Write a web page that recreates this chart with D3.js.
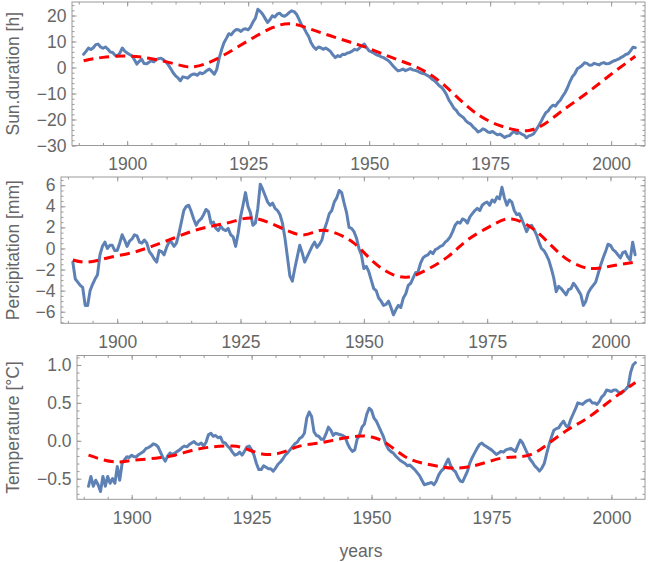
<!DOCTYPE html>
<html><head><meta charset="utf-8">
<script src="https://cdn.jsdelivr.net/npm/d3@7"></script>
<style>html,body{margin:0;padding:0;background:#fff}svg{display:block}</style>
</head><body>
<svg id="chart" width="650" height="562"></svg>
<script>
// ---------- data (half-year samples) ----------
const years = [
 1891,1891.5,1892,1892.5,1893,1893.5,1894,1894.5,1895,1895.5,1896,1896.5,1897,1897.5,1898,1898.5,1899,1899.5,1900,1900.5,
 1901,1901.5,1902,1902.5,1903,1903.5,1904,1904.5,1905,1905.5,1906,1906.5,1907,1907.5,1908,1908.5,1909,1909.5,1910,1910.5,
 1911,1911.5,1912,1912.5,1913,1913.5,1914,1914.5,1915,1915.5,1916,1916.5,1917,1917.5,1918,1918.5,1919,1919.5,1920,1920.5,
 1921,1921.5,1922,1922.5,1923,1923.5,1924,1924.5,1925,1925.5,1926,1926.5,1927,1927.5,1928,1928.5,1929,1929.5,1930,1930.5,
 1931,1931.5,1932,1932.5,1933,1933.5,1934,1934.5,1935,1935.5,1936,1936.5,1937,1937.5,1938,1938.5,1939,1939.5,1940,1940.5,
 1941,1941.5,1942,1942.5,1943,1943.5,1944,1944.5,1945,1945.5,1946,1946.5,1947,1947.5,1948,1948.5,1949,1949.5,1950,1950.5,
 1951,1951.5,1952,1952.5,1953,1953.5,1954,1954.5,1955,1955.5,1956,1956.5,1957,1957.5,1958,1958.5,1959,1959.5,1960,1960.5,
 1961,1961.5,1962,1962.5,1963,1963.5,1964,1964.5,1965,1965.5,1966,1966.5,1967,1967.5,1968,1968.5,1969,1969.5,1970,1970.5,
 1971,1971.5,1972,1972.5,1973,1973.5,1974,1974.5,1975,1975.5,1976,1976.5,1977,1977.5,1978,1978.5,1979,1979.5,1980,1980.5,
 1981,1981.5,1982,1982.5,1983,1983.5,1984,1984.5,1985,1985.5,1986,1986.5,1987,1987.5,1988,1988.5,1989,1989.5,1990,1990.5,
 1991,1991.5,1992,1992.5,1993,1993.5,1994,1994.5,1995,1995.5,1996,1996.5,1997,1997.5,1998,1998.5,1999,1999.5,2000,2000.5,
 2001,2001.5,2002,2002.5,2003,2003.5,2004,2004.5,2005];

const sunValues = [
 5.1,6.2,7.5,6.9,7.6,8.8,9.0,7.9,7.4,7.9,7.1,6.0,5.8,4.7,4.5,5.6,7.5,6.3,5.6,5.0,
 4.5,3.0,1.3,2.4,3.2,1.5,1.4,2.0,2.6,2.2,3.0,3.4,3.6,3.0,2.2,1.0,-0.5,-2.0,-3.2,-4.0,
 -5.1,-3.6,-3.8,-4.1,-3.2,-2.6,-2.5,-3.0,-2.0,-2.4,-1.9,-1.1,-0.6,-1.5,-2.6,-0.8,3.5,6.8,9.5,11.2,
 13.0,12.6,13.8,14.6,14.5,13.9,14.7,14.9,14.5,15.6,17.5,19.0,22.4,21.6,20.5,18.9,17.3,18.4,19.9,19.4,
 20.5,20.9,20.0,19.7,20.3,21.2,21.8,21.5,20.5,18.6,16.5,15.3,13.5,11.9,9.5,8.0,7.0,7.9,7.6,7.0,
 7.5,6.9,6.2,4.9,3.8,4.6,4.2,5.1,5.0,5.6,5.8,6.3,7.0,6.7,7.5,8.4,9.0,7.6,6.4,6.0,
 5.5,4.9,4.6,4.1,3.8,3.2,2.6,1.6,0.5,-0.5,-1.3,-1.0,-0.6,-1.2,-0.8,-0.4,-0.9,-1.1,-1.4,-1.9,
 -2.2,-2.5,-3.0,-3.6,-4.5,-5.1,-6.0,-7.0,-7.7,-8.9,-10.5,-12.6,-14.0,-15.6,-16.5,-17.9,-18.6,-19.3,-20.5,-21.3,
 -21.8,-22.9,-23.7,-24.8,-24.4,-23.6,-24.0,-24.8,-25.0,-24.6,-25.3,-25.9,-25.6,-26.2,-26.9,-26.4,-26.2,-25.2,-24.6,-25.4,
 -25.0,-25.6,-26.0,-27.0,-26.3,-26.0,-25.5,-24.0,-22.5,-20.9,-19.0,-17.4,-16.7,-15.3,-14.5,-14.9,-13.5,-12.6,-11.0,-9.6,
 -7.7,-5.4,-3.5,-2.4,-0.5,0.1,0.8,1.8,1.6,0.9,1.0,1.6,1.3,1.0,1.6,1.9,1.4,1.5,2.0,2.5,
 2.8,3.2,3.8,4.3,5.0,5.3,6.4,7.8,7.6];

const precValues = [
 -1.3,-2.9,-3.2,-3.5,-3.7,-5.4,-5.4,-4.0,-3.4,-2.9,-2.5,-0.6,0.2,0.6,0.0,0.3,0.3,-0.2,-0.2,0.5,
 1.3,0.8,0.2,0.7,0.9,1.3,1.2,0.6,0.5,0.8,0.5,-0.3,-0.6,-1.0,-1.3,-0.2,-0.3,-0.6,0.1,0.6,
 0.6,0.2,0.5,1.4,2.5,3.6,4.0,4.1,3.5,2.8,2.2,2.6,2.8,3.2,3.7,3.5,2.4,2.5,1.9,1.7,
 2.1,1.8,1.7,1.9,1.3,1.1,0.2,1.4,3.0,4.1,5.3,4.0,3.4,2.2,2.4,3.8,6.1,5.6,5.0,4.4,
 4.1,4.3,3.8,3.6,3.2,2.4,1.0,-0.8,-2.6,-3.1,-1.9,-0.8,0.3,-0.4,-1.3,-0.8,-0.3,0.2,0.6,0.1,
 0.4,0.8,1.8,2.5,3.3,3.6,4.4,4.8,5.5,5.3,4.3,3.4,2.0,1.9,1.6,1.0,0.0,-0.6,-1.9,-1.7,
 -2.2,-3.0,-3.8,-4.0,-4.7,-5.0,-5.4,-5.3,-5.0,-5.6,-6.3,-5.8,-5.4,-5.6,-4.7,-4.3,-3.5,-3.3,-2.8,-2.3,
 -2.2,-1.4,-0.9,-0.7,-0.6,-0.3,-0.5,-0.1,0.0,0.2,0.3,0.6,0.8,1.1,1.6,2.2,2.5,2.4,2.8,2.7,
 2.4,3.0,3.3,3.6,3.8,3.6,4.1,4.3,4.4,4.1,4.6,4.4,4.9,4.7,5.8,4.8,4.1,4.6,4.4,3.6,
 3.2,3.3,2.8,2.2,1.6,2.1,2.2,1.8,1.3,0.6,0.0,-0.2,-0.6,-1.1,-1.9,-2.8,-4.1,-3.6,-3.8,-4.1,
 -4.4,-3.9,-3.8,-3.3,-3.6,-4.0,-4.4,-5.4,-5.0,-4.2,-3.8,-3.5,-3.2,-2.4,-1.6,-0.9,-0.3,0.4,0.3,-0.1,
 -0.3,-0.6,-0.9,-0.4,-0.3,-0.8,-1.1,0.6,-0.6];

const tempValues = [
 -0.60,-0.47,-0.60,-0.52,-0.58,-0.67,-0.47,-0.60,-0.47,-0.56,-0.50,-0.56,-0.34,-0.52,-0.30,-0.25,-0.21,-0.22,-0.19,-0.21,
 -0.21,-0.18,-0.16,-0.14,-0.10,-0.09,-0.07,-0.04,-0.05,-0.08,-0.15,-0.22,-0.27,-0.20,-0.16,-0.18,-0.16,-0.14,-0.12,-0.09,
 -0.07,-0.08,-0.05,-0.03,-0.01,-0.04,-0.05,-0.03,-0.07,-0.02,0.08,0.10,0.06,0.07,0.04,0.05,-0.02,-0.03,-0.07,-0.10,
 -0.15,-0.19,-0.18,-0.15,-0.19,-0.14,-0.08,-0.07,-0.12,-0.19,-0.30,-0.38,-0.38,-0.33,-0.35,-0.37,-0.37,-0.40,-0.36,-0.31,
 -0.28,-0.24,-0.19,-0.16,-0.12,-0.08,-0.04,-0.02,0.03,0.05,0.10,0.30,0.38,0.32,0.12,0.07,0.06,0.02,0.02,0.09,
 0.18,0.14,0.07,0.10,0.09,0.08,0.07,0.05,-0.04,-0.10,-0.14,-0.12,0.02,0.08,0.18,0.22,0.35,0.43,0.40,0.30,
 0.26,0.19,0.12,0.05,-0.05,-0.11,-0.14,-0.16,-0.20,-0.23,-0.26,-0.28,-0.30,-0.33,-0.32,-0.35,-0.38,-0.42,-0.46,-0.52,
 -0.58,-0.57,-0.56,-0.55,-0.58,-0.53,-0.45,-0.40,-0.37,-0.30,-0.24,-0.33,-0.38,-0.41,-0.48,-0.53,-0.54,-0.47,-0.40,-0.29,
 -0.22,-0.16,-0.10,-0.05,-0.03,-0.06,-0.08,-0.10,-0.12,-0.15,-0.18,-0.16,-0.14,-0.15,-0.12,-0.11,-0.10,-0.12,-0.14,-0.06,
 0.01,-0.03,-0.10,-0.17,-0.24,-0.28,-0.33,-0.36,-0.40,-0.36,-0.30,-0.17,-0.05,0.05,0.14,0.16,0.17,0.22,0.26,0.20,
 0.18,0.28,0.35,0.42,0.50,0.49,0.48,0.51,0.53,0.54,0.50,0.50,0.48,0.52,0.58,0.61,0.67,0.66,0.65,0.67,
 0.67,0.64,0.62,0.65,0.68,0.72,0.90,1.00,1.03];

const sunFitYears  = [1891,1895,1900,1905,1910,1913,1916,1920,1925,1930,1934,1938,1942,1946,1950,1955,1960,1965,1970,1975,1980,1983,1986,1990,1995,2000,2005];
const sunFitValues = [2.6,3.9,4.4,3.4,1.3,0.2,1.3,4.8,10.3,15.3,16.8,14.7,12.2,9.8,7.3,3.6,0.0,-6.0,-14.5,-20.8,-23.9,-24.2,-22.0,-16.5,-9.8,-2.6,4.3];

const precFitYears  = [1891,1894,1898,1903,1907,1911,1915,1919,1923,1927,1931,1935,1938,1941,1944,1948,1952,1956,1959,1962,1967,1971,1976,1980,1985,1990,1994,1997,2001,2005];
const precFitValues = [-1.1,-1.3,-0.9,-0.4,0.2,0.9,1.6,2.1,2.5,2.9,2.4,1.6,1.3,1.7,1.5,0.5,-1.3,-2.5,-2.7,-2.2,-0.8,0.8,2.2,2.8,1.6,-0.6,-1.7,-1.9,-1.6,-1.3];

const tempFitYears  = [1891,1894,1897,1900,1905,1909,1913,1917,1921,1924,1928,1932,1935,1939,1943,1947,1950,1953,1957,1961,1965,1968,1972,1977,1981,1984,1987,1991,1995,2000,2005];
const tempFitValues = [-0.19,-0.25,-0.28,-0.26,-0.23,-0.19,-0.12,-0.08,-0.07,-0.11,-0.18,-0.14,-0.07,-0.03,0.02,0.06,0.05,-0.03,-0.21,-0.30,-0.35,-0.36,-0.32,-0.23,-0.21,-0.16,-0.03,0.15,0.30,0.54,0.77];

const xTickLabels = [1900,1925,1950,1975,2000];
const sunTicks  = [-30,-20,-10,0,10,20];
const precTicks = [-6,-4,-2,0,2,4,6];
const tempTicks = [-0.5,0.0,0.5,1.0];

const titles = ["Sun.duration [h]", "Percipitation [mm]", "Temperature [°C]"];
const xTitle = "years";

// ---------- layout ----------
const svg = d3.select("#chart");
const RIGHT = 645;
const X_DOMAIN = [1888.6, 2007.0];
const FONT = "'Liberation Sans', Arial, Helvetica, sans-serif";
const FS = 17.5;
const BLUE = "#5E81B5", RED = "#FF0000", FRAME = "#9a9a9a", TXT = "#666666";

const panels = [
  {title: titles[0], values: sunValues, fitX: sunFitYears, fitY: sunFitValues,
   yDomain: [-30, 25.2], yTicks: sunTicks, minorStep: 2, minorFrom: -30, minorTo: 25,
   fmt: d3.format("d"), left: 72, top: 2, bottom: 145.5},
  {title: titles[1], values: precValues, fitX: precFitYears, fitY: precFitValues,
   yDomain: [-7.1, 6.78], yTicks: precTicks, minorStep: 0.5, minorFrom: -7, minorTo: 6.6,
   fmt: d3.format("d"), left: 61, top: 177, bottom: 323.3},
  {title: titles[2], values: tempValues, fitX: tempFitYears, fitY: tempFitValues,
   yDomain: [-0.772, 1.125], yTicks: tempTicks, minorStep: 0.1, minorFrom: -0.7, minorTo: 1.11,
   fmt: d3.format(".1f"), left: 77, top: 355.5, bottom: 499.3}
];

const xMinor = d3.range(1890, 2006, 5);

function styleAxis(g) {
  g.select(".domain").remove();
  g.selectAll(".tick line").attr("stroke", FRAME).attr("stroke-width", 1);
  g.selectAll("text").attr("fill", TXT).attr("font-size", FS).attr("font-family", FONT);
}

panels.forEach((p, i) => {
  const x = d3.scaleLinear().domain(X_DOMAIN).range([p.left, RIGHT]);
  const y = d3.scaleLinear().domain(p.yDomain).range([p.bottom, p.top]);
  const g = svg.append("g");

  const clipId = "clip" + i;
  g.append("clipPath").attr("id", clipId).append("rect")
    .attr("x", p.left).attr("y", p.top).attr("width", RIGHT - p.left).attr("height", p.bottom - p.top);

  const yMinor = d3.range(p.minorFrom, p.minorTo, p.minorStep).map(v => +v.toFixed(4));

  // minor ticks (all four sides, pointing inward)
  g.append("g").attr("transform", `translate(0,${p.bottom})`)
    .call(d3.axisBottom(x).tickValues(xMinor).tickSize(-2.5).tickFormat("")).call(styleAxis);
  g.append("g").attr("transform", `translate(0,${p.top})`)
    .call(d3.axisTop(x).tickValues(xMinor).tickSize(-2.5).tickFormat("")).call(styleAxis);
  g.append("g").attr("transform", `translate(${p.left},0)`)
    .call(d3.axisLeft(y).tickValues(yMinor).tickSize(-2.5).tickFormat("")).call(styleAxis);
  g.append("g").attr("transform", `translate(${RIGHT},0)`)
    .call(d3.axisRight(y).tickValues(yMinor).tickSize(-2.5).tickFormat("")).call(styleAxis);

  // major ticks
  g.append("g").attr("transform", `translate(0,${p.bottom})`)
    .call(d3.axisBottom(x).tickValues(xTickLabels).tickSize(-4.5).tickPadding(12).tickFormat(d3.format("d"))).call(styleAxis);
  g.append("g").attr("transform", `translate(0,${p.top})`)
    .call(d3.axisTop(x).tickValues(xTickLabels).tickSize(-4.5).tickFormat("")).call(styleAxis);
  g.append("g").attr("transform", `translate(${p.left},0)`)
    .call(d3.axisLeft(y).tickValues(p.yTicks).tickSize(-4.5).tickPadding(5.5).tickFormat(p.fmt)).call(styleAxis);
  g.append("g").attr("transform", `translate(${RIGHT},0)`)
    .call(d3.axisRight(y).tickValues(p.yTicks).tickSize(-4.5).tickFormat("")).call(styleAxis);

  // data series
  const blueLine = d3.line().x((d, k) => x(years[k])).y(d => y(d));
  g.append("path").datum(p.values)
    .attr("clip-path", `url(#${clipId})`)
    .attr("d", blueLine)
    .attr("fill", "none").attr("stroke", BLUE).attr("stroke-width", 3)
    .attr("stroke-linejoin", "round").attr("stroke-linecap", "round");

  const redLine = d3.line().curve(d3.curveNatural).x((d, k) => x(p.fitX[k])).y(d => y(d));
  g.append("path").datum(p.fitY)
    .attr("clip-path", `url(#${clipId})`)
    .attr("d", redLine)
    .attr("fill", "none").attr("stroke", RED).attr("stroke-width", 3)
    .attr("stroke-dasharray", "10,6");

  // frame
  g.append("rect")
    .attr("x", p.left).attr("y", p.top).attr("width", RIGHT - p.left).attr("height", p.bottom - p.top)
    .attr("fill", "none").attr("stroke", FRAME).attr("stroke-width", 1);

  // y title
  g.append("text")
    .attr("transform", `translate(19,${(p.top + p.bottom) / 2}) rotate(-90)`)
    .attr("text-anchor", "middle")
    .attr("font-family", FONT).attr("font-size", FS).attr("fill", TXT)
    .text(p.title);
});

svg.append("text")
  .attr("x", 361).attr("y", 557)
  .attr("text-anchor", "middle")
  .attr("font-family", FONT).attr("font-size", FS).attr("fill", TXT)
  .text(xTitle);
</script>
</body></html>
